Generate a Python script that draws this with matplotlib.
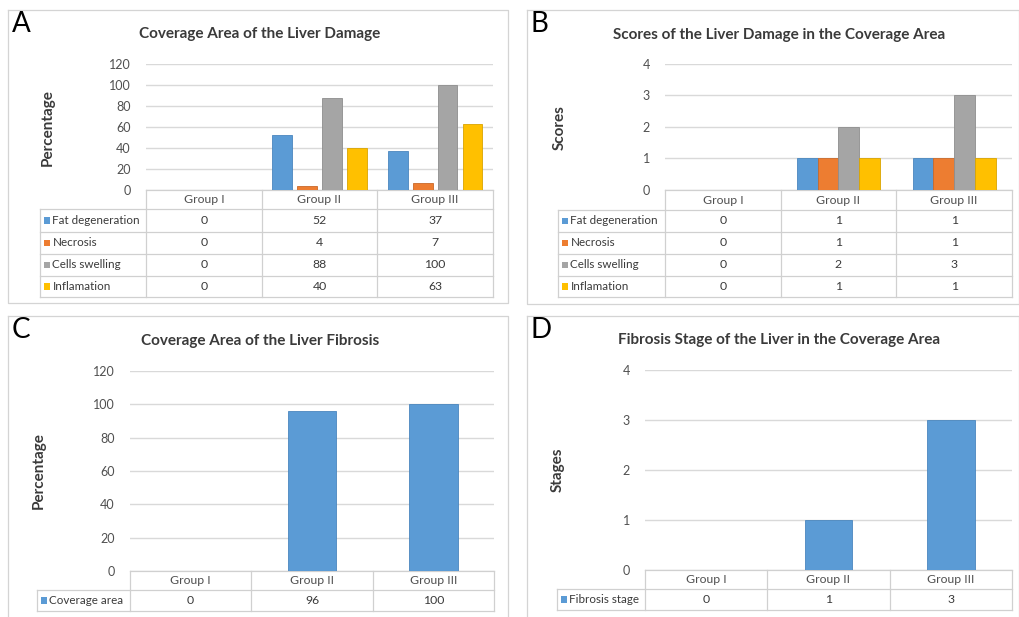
import numpy as np
import matplotlib.pyplot as plt

plt.rcParams['font.family'] = ['Lato', 'DejaVu Sans']

groups = ['Group I', 'Group II', 'Group III']

damage_series = ['Fat degeneration', 'Necrosis', 'Cells swelling', 'Inflamation']
damage_area = [[0, 52, 37], [0, 4, 7], [0, 88, 100], [0, 40, 63]]
damage_scores = [[0, 1, 1], [0, 1, 1], [0, 2, 3], [0, 1, 1]]

fibrosis_area_label = ['Coverage area']
fibrosis_area = [[0, 96, 100]]
fibrosis_stage_label = ['Fibrosis stage']
fibrosis_stage = [[0, 1, 3]]

colors = ['#5B9BD5', '#ED7D31', '#A5A5A5', '#FFC000']
edges = ['#4A86BE', '#C9692A', '#8E8E8E', '#D9A400']

W, H = 1020, 617
fig = plt.figure(figsize=(W / 100, H / 100), dpi=100)
fig.patch.set_facecolor('white')

# overlay axes in pixel units for borders, tables, labels
ov = fig.add_axes([0, 0, 1, 1], zorder=0)
ov.set_xlim(0, W)
ov.set_ylim(H, 0)
ov.axis('off')

GRID = '#D9D9D9'
TXT = '#3A3A3A'


def panel(letter, title, ylabel, series, values, ticks, bw, step,
          box, plot, lab_left, row_tops, title_xy, ylab_xy):
    # box: panel frame (x0, y0, x1, y1); plot: (x0, y_top, x1, y_zero)
    bx0, by0, bx1, by1 = box
    ov.plot([bx0, bx1, bx1, bx0, bx0], [by0, by0, by1, by1, by0],
            color='#D4D4D4', lw=0.9)
    ov.text(bx0 + 4, by0 + 1, letter, fontsize=20, va='top', ha='left',
            color='black')
    ov.text(title_xy[0], title_xy[1], title, fontsize=11, weight='bold',
            color=TXT, ha='center', va='center')
    ov.text(ylab_xy[0], ylab_xy[1], ylabel, fontsize=11, weight='bold',
            color=TXT, rotation=90, ha='center', va='center')

    px0, pyt, px1, pyz = plot
    ax = fig.add_axes([px0 / W, 1 - pyz / H, (px1 - px0) / W, (pyz - pyt) / H],
                      zorder=2)
    ax.patch.set_alpha(0)
    x = np.arange(len(groups))
    n = len(series)
    for i, vals in enumerate(values):
        off = (i - (n - 1) / 2) * step
        ax.bar(x + off, vals, bw, color=colors[i], edgecolor=edges[i],
               linewidth=0.6, zorder=3)
    ax.set_xlim(-0.5, len(groups) - 0.5)
    ax.set_ylim(0, ticks[-1])
    ax.set_yticks(ticks)
    ax.set_yticklabels([str(t) for t in ticks], fontsize=9, color='#505050')
    ax.tick_params(axis='y', length=0, pad=11)
    ax.set_xticks([])
    ax.grid(axis='y', color=GRID, lw=1, zorder=0)
    for s in ax.spines.values():
        s.set_visible(False)

    # data table below the plot
    gw = (px1 - px0) / len(groups)
    cols = [px0 + k * gw for k in range(len(groups) + 1)]
    top = pyz
    lc = '#D0D0D0'
    ov.plot([px0, px1], [top, top], color=lc, lw=0.9)
    for k in range(len(groups)):
        ov.text((cols[k] + cols[k + 1]) / 2, (top + row_tops[0]) / 2, groups[k],
                fontsize=8.8, color='#505050', ha='center', va='center')
    for c in cols:
        ov.plot([c, c], [top, row_tops[-1]], color=lc, lw=0.9)
    ov.plot([lab_left, lab_left], [row_tops[0], row_tops[-1]], color=lc, lw=0.9)
    for r in row_tops:
        ov.plot([lab_left, px1], [r, r], color=lc, lw=0.9)
    for i, name in enumerate(series):
        yc = (row_tops[i] + row_tops[i + 1]) / 2
        ov.add_patch(plt.Rectangle((lab_left + 4, yc - 3.5), 6.5, 6.5,
                                   color=colors[i], lw=0))
        ov.text(lab_left + 12.5, yc, name, fontsize=8.4, color=TXT,
                ha='left', va='center')
        for k in range(len(groups)):
            ov.text((cols[k] + cols[k + 1]) / 2, yc, str(values[i][k]),
                    fontsize=8.8, color=TXT, ha='center', va='center')
    return ax


panel('A', 'Coverage Area of the Liver Damage', 'Percentage',
      damage_series, damage_area, [0, 20, 40, 60, 80, 100, 120],
      0.17, 0.216,
      (8, 10, 508, 303), (146, 64, 493, 190), 40,
      [209, 232, 254, 276, 297], (260, 34), (48, 128))

panel('B', 'Scores of the Liver Damage in the Coverage Area', 'Scores',
      damage_series, damage_scores, [0, 1, 2, 3, 4],
      0.18, 0.18,
      (527, 10, 1019, 304), (665, 64, 1012, 190), 558,
      [210, 232, 254, 276, 297], (779, 35), (560, 128))

panel('C', 'Coverage Area of the Liver Fibrosis', 'Percentage',
      fibrosis_area_label, fibrosis_area, [0, 20, 40, 60, 80, 100, 120],
      0.4, 0.0,
      (8, 316, 508, 620), (130, 371, 494, 571), 37,
      [590, 611], (260, 341), (39, 471))

panel('D', 'Fibrosis Stage of the Liver in the Coverage Area', 'Stages',
      fibrosis_stage_label, fibrosis_stage, [0, 1, 2, 3, 4],
      0.39, 0.0,
      (527, 316, 1019, 620), (645, 370, 1012, 570), 557,
      [589, 610], (779, 340), (558, 470))

fig.savefig('out.png', dpi=100)
